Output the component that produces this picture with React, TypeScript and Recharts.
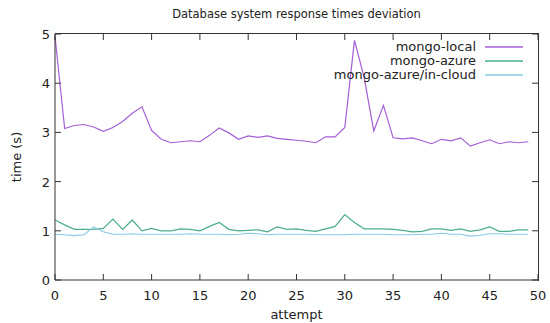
import React from "react";
import {
  LineChart,
  Line,
  XAxis,
  YAxis,
  Label,
} from "recharts";

const attempts = Array.from({ length: 50 }, (_, i) => i);
const mongoLocal = [
  4.95, 3.08, 3.14, 3.16, 3.11, 3.02, 3.1, 3.22, 3.39, 3.52, 3.04, 2.86, 2.79,
  2.81, 2.83, 2.81, 2.94, 3.09, 2.99, 2.86, 2.93, 2.9, 2.93, 2.88, 2.86, 2.84,
  2.82, 2.79, 2.91, 2.91, 3.1, 4.87, 4.12, 3.03, 3.55, 2.89, 2.87, 2.89, 2.83,
  2.77, 2.86, 2.83, 2.89, 2.72, 2.79, 2.85, 2.77, 2.81, 2.79, 2.81,
];
const mongoAzure = [
  1.22, 1.12, 1.03, 1.03, 1.03, 1.05, 1.24, 1.03, 1.22, 1.0, 1.05, 1.0, 1.0,
  1.04, 1.03, 1.0, 1.09, 1.17, 1.03, 1.0, 1.01, 1.02, 0.98, 1.08, 1.03, 1.04,
  1.01, 0.99, 1.04, 1.09, 1.33, 1.17, 1.04, 1.04, 1.04, 1.03, 1.01, 0.98, 0.99,
  1.04, 1.04, 1.01, 1.04, 0.99, 1.02, 1.08, 0.99, 0.99, 1.02, 1.02,
];
const mongoCloud = [
  0.93, 0.92, 0.9, 0.92, 1.08, 0.98, 0.93, 0.93, 0.94, 0.93, 0.93, 0.93, 0.93,
  0.93, 0.94, 0.93, 0.93, 0.93, 0.92, 0.93, 0.95, 0.94, 0.92, 0.93, 0.93, 0.93,
  0.93, 0.92, 0.92, 0.92, 0.92, 0.93, 0.93, 0.93, 0.93, 0.92, 0.92, 0.92, 0.93,
  0.93, 0.95, 0.93, 0.93, 0.89, 0.91, 0.94, 0.94, 0.93, 0.93, 0.93,
];
const xTicks = [0, 5, 10, 15, 20, 25, 30, 35, 40, 45, 50];
const yTicks = [0, 1, 2, 3, 4, 5];

const series = [
  { key: "local", name: "mongo-local", color: "#a45fd8" },
  { key: "azure", name: "mongo-azure", color: "#4aae8e" },
  { key: "cloud", name: "mongo-azure/in-cloud", color: "#86cbe6" },
];

const data = attempts.map((a, i) => ({
  attempt: a,
  local: mongoLocal[i],
  azure: mongoAzure[i],
  cloud: mongoCloud[i],
}));

const FONT = "'DejaVu Sans', sans-serif";
const AXIS = "#333333";
const TICK = 6;
const W = 550;
const H = 323;
const M = { top: 34, right: 12, bottom: 3, left: 10 };
const PLOT_TOP = 34;
const PLOT_RIGHT = 538;

// gnuplot style: ticks point inward and are mirrored on the top/right border
const BottomTick = (props: any) => {
  const { x, y, payload } = props;
  const y0 = y - 4;
  return (
    <g>
      <path d={`M${x},${y0}v${-TICK}M${x},${PLOT_TOP}v${TICK}`} stroke={AXIS} strokeWidth={1} fill="none" />
      <text x={x} y={y0 + 20} textAnchor="middle" fontSize={13} fill="#222" fontFamily={FONT}>
        {payload.value}
      </text>
    </g>
  );
};

const LeftTick = (props: any) => {
  const { x, y, payload } = props;
  const x0 = x + 6;
  return (
    <g>
      <path d={`M${x0},${y}h${TICK}M${PLOT_RIGHT},${y}h${-TICK}`} stroke={AXIS} strokeWidth={1} fill="none" />
      <text x={x0 - 5} y={y + 5} textAnchor="end" fontSize={13} fill="#222" fontFamily={FONT}>
        {payload.value}
      </text>
    </g>
  );
};

const KeyBox = () => (
  <div
    style={{
      position: "absolute",
      top: 40,
      right: 27,
      fontFamily: FONT,
      fontSize: 13,
      color: "#222",
      lineHeight: "14px",
    }}
  >
    {series.map((s) => (
      <div key={s.key} style={{ display: "flex", alignItems: "center", justifyContent: "flex-end" }}>
        <span>{s.name}</span>
        <svg width={47} height={14} style={{ display: "block" }}>
          <line x1={9} y1={7} x2={47} y2={7} stroke={s.color} strokeWidth={1.3} />
        </svg>
      </div>
    ))}
  </div>
);

export default function App() {
  return (
    <div style={{ position: "relative", width: W, height: H, background: "#fff" }}>
      <style>{`body{margin:0}`}</style>
      <LineChart width={W} height={H} data={data} margin={M}>
        <XAxis
          dataKey="attempt"
          type="number"
          domain={[0, 50]}
          ticks={xTicks}
          interval={0}
          height={40}
          tickSize={0}
          tickMargin={4}
          tick={<BottomTick />}
          stroke={AXIS}
        >
          <Label
            value="attempt"
            position="insideBottom"
            offset={1}
            style={{ fontFamily: FONT, fontSize: 13, fill: "#222" }}
          />
        </XAxis>
        <YAxis
          type="number"
          domain={[0, 5]}
          ticks={yTicks}
          interval={0}
          width={45}
          tickSize={0}
          tickMargin={6}
          tick={<LeftTick />}
          stroke={AXIS}
        >
          <Label
            value="time (s)"
            angle={-90}
            position="insideLeft"
            offset={6}
            style={{ fontFamily: FONT, fontSize: 13, fill: "#222", textAnchor: "middle" }}
          />
        </YAxis>
        {series.map((s) => (
          <Line
            key={s.key}
            dataKey={s.key}
            name={s.name}
            stroke={s.color}
            strokeWidth={1.2}
            dot={false}
            isAnimationActive={false}
          />
        ))}
      </LineChart>
      {/* top and right border of the gnuplot frame */}
      <div
        style={{
          position: "absolute",
          left: 55,
          top: 33,
          width: 483,
          height: 247,
          borderTop: `1px solid ${AXIS}`,
          borderRight: `1px solid ${AXIS}`,
          pointerEvents: "none",
        }}
      />
      <div
        style={{
          position: "absolute",
          top: 7,
          left: 55,
          width: 483,
          textAlign: "center",
          fontFamily: FONT,
          fontSize: 11.5,
          color: "#222",
        }}
      >
        Database system response times deviation
      </div>
      <KeyBox />
    </div>
  );
}
